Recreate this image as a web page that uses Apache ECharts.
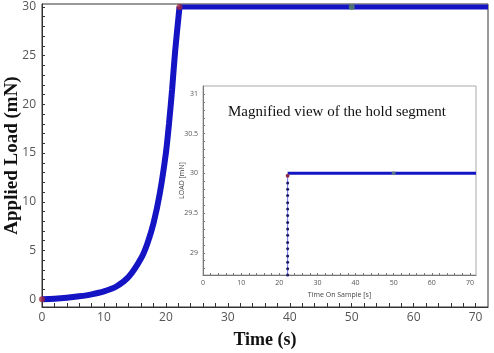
<!DOCTYPE html>
<html>
<head>
<meta charset="utf-8">
<script src="https://cdn.jsdelivr.net/npm/echarts@6/dist/echarts.min.js"></script>
<style>
  html, body { margin: 0; padding: 0; background: #fff; }
  #chart { width: 494px; height: 353px; }
</style>
</head>
<body>
<div id="chart"></div>
<script>
// loading ramp then hold
const rampTime = [0, 2, 4, 6, 8, 10, 12, 14, 16, 17, 18, 19, 20, 20.5, 21, 21.5, 22.2]
const rampLoad = [0, 0.05, 0.15, 0.3, 0.5, 0.8, 1.3, 2.3, 4.2, 5.7, 7.8, 10.8, 15, 18, 21.5, 25.5, 30]
const holdTime = [22.2, 72]
const holdLoad = [30, 30]
// inset: last samples of the ramp (vertical dotted run) + hold
const zoomRiseTime = [22.2, 22.2, 22.2, 22.2, 22.2, 22.2, 22.2, 22.2, 22.2, 22.2, 22.2, 22.2, 22.2, 22.2, 22.2, 22.2]
const zoomRiseLoad = [28.72, 28.8, 28.88, 28.96, 29.05, 29.13, 29.22, 29.3, 29.38, 29.47, 29.55, 29.63, 29.72, 29.8, 29.88, 29.97]
const zoomHoldTime = [22.2, 71.6]
const redPoints = [[0, 0], [22.2, 30]]
const greenPoints = [[50, 30]]
const insetRed = [[22.2, 29.97]]
const insetGreen = [[50, 30]]
const mainXLabels = [0, 10, 20, 30, 40, 50, 60, 70]
const mainXTicks = [0, 2, 4, 6, 8, 10, 12, 14, 16, 18, 20, 22, 24, 26, 28, 30, 32, 34, 36, 38, 40, 42, 44, 46, 48, 50, 52, 54, 56, 58, 60, 62, 64, 66, 68, 70]
const mainYLabels = [0, 5, 10, 15, 20, 25, 30]
const mainYTicks = [0, 1, 2, 3, 4, 5, 6, 7, 8, 9, 10, 11, 12, 13, 14, 15, 16, 17, 18, 19, 20, 21, 22, 23, 24, 25, 26, 27, 28, 29, 30]
const insetXLabels = [0, 10, 20, 30, 40, 50, 60, 70]
const insetYLabels = [29, 29.5, 30, 30.5, 31]
const insetYTicks = [28.8, 28.9, 29, 29.1, 29.2, 29.3, 29.4, 29.5, 29.6, 29.7, 29.8, 29.9, 30, 30.1, 30.2, 30.3, 30.4, 30.5, 30.6, 30.7, 30.8, 30.9, 31]

const pair = (xs, ys) => xs.map((x, i) => [x, ys[i]])
const serif = 'Liberation Serif'
const sans = 'Open Sans'

const myChart = echarts.init(document.getElementById('chart'))
const option = {
  animation: false,
  title: {
    text: 'Magnified view of the hold segment',
    left: 223,
    top: 100,
    textStyle: { fontFamily: serif, fontWeight: 'normal', fontSize: 15, color: '#111' }
  },
  grid: [
    { left: 42, top: 4, right: 6, bottom: 46, outerBoundsMode: 'none', containLabel: false, show: true, borderColor: '#333', borderWidth: 1 },
    { left: 203, top: 86, right: 18, bottom: 78, outerBoundsMode: 'none', containLabel: false, show: true, borderColor: '#aaa', borderWidth: 1, backgroundColor: '#fff' }
  ],
  xAxis: [
    {
      gridIndex: 0, type: 'value', min: 0, max: 72,
      name: 'Time (s)', nameLocation: 'middle', nameGap: 24, nameMoveOverlap: false,
      nameTextStyle: { fontFamily: serif, fontWeight: 'bold', fontSize: 18, color: '#111' },
      axisLine: { onZero: false, lineStyle: { color: '#333' } },
      axisTick: { inside: true, length: 4, customValues: mainXTicks, lineStyle: { color: '#333' } },
      axisLabel: { customValues: mainXLabels, fontFamily: sans, fontSize: 12, color: '#555', margin: 5 },
      splitLine: { show: false }
    },
    {
      gridIndex: 1, type: 'value', min: 0, max: 71.6,
      name: 'Time On Sample [s]', nameLocation: 'middle', nameGap: 16, nameMoveOverlap: false,
      nameTextStyle: { fontFamily: sans, fontSize: 7, color: '#444' },
      axisLine: { onZero: false, lineStyle: { color: '#777' } },
      axisTick: { inside: true, length: 2, customValues: mainXTicks, lineStyle: { color: '#777' } },
      axisLabel: { customValues: insetXLabels, fontFamily: sans, fontSize: 7, color: '#555', margin: 4 },
      splitLine: { show: false }
    }
  ],
  yAxis: [
    {
      gridIndex: 0, type: 'value', min: -0.8, max: 30.3,
      name: 'Applied Load (mN)', nameLocation: 'middle', nameGap: 20, nameMoveOverlap: false,
      nameTextStyle: { fontFamily: serif, fontWeight: 'bold', fontSize: 19, color: '#111' },
      axisLine: { show: true, onZero: false, lineStyle: { color: '#333' } },
      axisTick: { inside: true, length: 3, customValues: mainYTicks, lineStyle: { color: '#333' } },
      axisLabel: { customValues: mainYLabels, fontFamily: sans, fontSize: 12, color: '#555', margin: 6 },
      splitLine: { show: false }
    },
    {
      gridIndex: 1, type: 'value', min: 28.72, max: 31.1,
      name: 'LOAD [mN]', nameLocation: 'middle', nameGap: 18, nameMoveOverlap: false,
      nameTextStyle: { fontFamily: sans, fontSize: 7, color: '#444' },
      axisLine: { show: true, onZero: false, lineStyle: { color: '#777' } },
      axisTick: { inside: true, length: 2, customValues: insetYTicks, lineStyle: { color: '#777' } },
      axisLabel: { customValues: insetYLabels, fontFamily: sans, fontSize: 7, color: '#555', margin: 5 },
      splitLine: { show: false }
    }
  ],
  series: [
    {
      type: 'line', xAxisIndex: 0, yAxisIndex: 0, smooth: 0.3, showSymbol: false,
      data: pair(rampTime, rampLoad),
      lineStyle: { color: '#1414c4', width: 6 }
    },
    {
      type: 'line', xAxisIndex: 0, yAxisIndex: 0, showSymbol: false,
      data: pair(holdTime, holdLoad),
      lineStyle: { color: '#1414c4', width: 5 }
    },
    {
      type: 'scatter', xAxisIndex: 0, yAxisIndex: 0, symbol: 'circle', symbolSize: 6,
      data: redPoints, itemStyle: { color: '#a0283c' }, z: 5
    },
    {
      type: 'scatter', xAxisIndex: 0, yAxisIndex: 0, symbol: 'circle', symbolSize: 6,
      data: greenPoints, itemStyle: { color: '#5c8a5c' }, z: 5
    },
    {
      type: 'line', xAxisIndex: 1, yAxisIndex: 1, symbol: 'circle', symbolSize: 3,
      data: pair(zoomRiseTime, zoomRiseLoad),
      lineStyle: { color: '#6a6af0', width: 1 },
      itemStyle: { color: '#1a1a66' }
    },
    {
      type: 'line', xAxisIndex: 1, yAxisIndex: 1, showSymbol: false,
      data: pair(zoomHoldTime, holdLoad),
      lineStyle: { color: '#1414c4', width: 3 }
    },
    {
      type: 'scatter', xAxisIndex: 1, yAxisIndex: 1, symbolSize: 4,
      data: insetRed, itemStyle: { color: '#a0283c' }, z: 5
    },
    {
      type: 'scatter', xAxisIndex: 1, yAxisIndex: 1, symbolSize: 4,
      data: insetGreen, itemStyle: { color: '#6a8a7a' }, z: 5
    }
  ]
}
myChart.setOption(option)
</script>
</body>
</html>
